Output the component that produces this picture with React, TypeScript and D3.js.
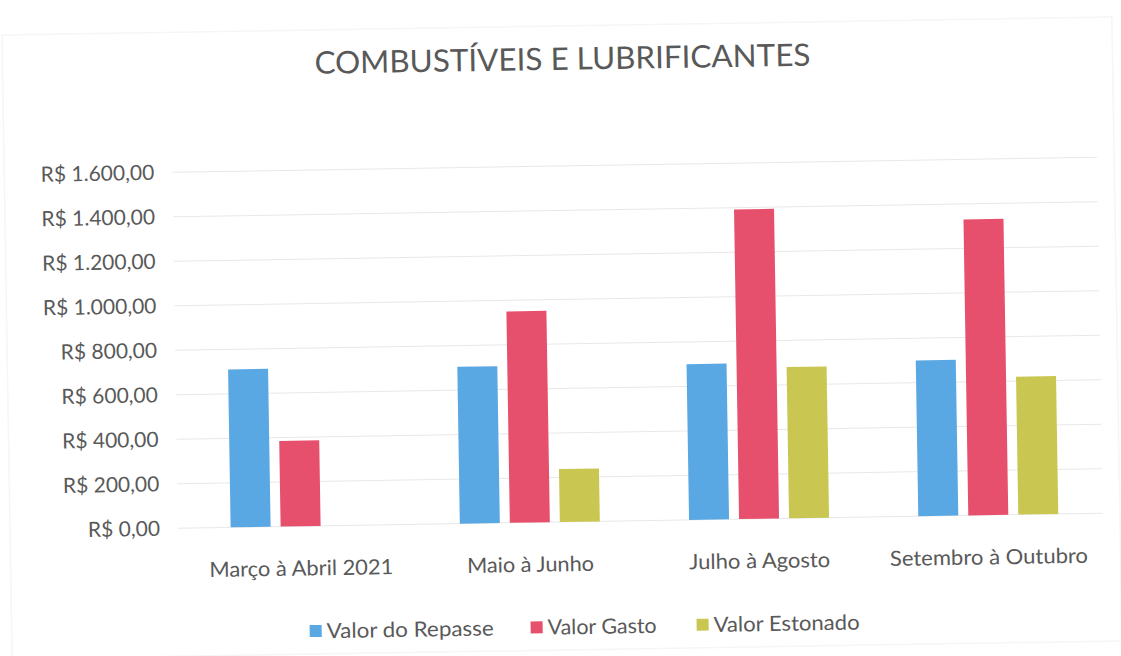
import React from "react";
import * as d3 from "d3";

const categories = ["Março à Abril 2021", "Maio à Junho", "Julho à Agosto", "Setembro à Outubro"];
const seriesNames = ["Valor do Repasse", "Valor Gasto", "Valor Estonado"];
const repasse = [710, 705, 700, 700];
const gasto = [385, 950, 1392, 1330];
const estonado = [0, 238, 680, 620];
const yTicks = [0, 200, 400, 600, 800, 1000, 1200, 1400, 1600];
const colors = ["#5aa8e3", "#e6506c", "#c9c752"];

const fmt = (v: number) =>
  "R$ " + v.toLocaleString("pt-BR", { minimumFractionDigits: 2, maximumFractionDigits: 2 });

// widths of the scanned labels, so the substitute font takes the same room
const catWidths = [184, 127, 141, 198];
const legendWidths = [167, 109, 146];
const legendX = [305, 526, 692];

export default function App() {
  const width = 1121;
  const height = 656;
  const margin = { top: 166, right: 21, bottom: 134, left: 183 };
  const w = width - margin.left - margin.right;
  const h = height - margin.top - margin.bottom;

  const values = [repasse, gasto, estonado];

  const x0 = d3.scaleBand<string>().domain(categories).range([0, w]);
  const bw = x0.bandwidth();
  const groupW = 140;
  const x1 = d3
    .scaleBand<string>()
    .domain(seriesNames)
    .range([(bw - groupW) / 2, (bw + groupW) / 2])
    .paddingInner(0.2);

  const y = d3.scaleLinear().domain([0, 1600]).range([h, 0]);

  const font = "Lato, 'Open Sans', sans-serif";
  const textColor = "#595959";

  return (
    <div style={{ position: "absolute", left: 0, top: 0 }}>
      <svg width={width} height={height} style={{ display: "block", background: "#fff" }}>
        <g transform="rotate(-0.93, 560, 340)">
          <rect x={7} y={26} width={1110} height={624} fill="none" stroke="#f6f6f6" strokeWidth={1.5} />
          <text
            x={567}
            y={62}
            textAnchor="middle"
            dominantBaseline="middle"
            fontFamily={font}
            fontSize={31}
            fill={textColor}
            textLength={496}
            lengthAdjust="spacingAndGlyphs"
          >
            COMBUSTÍVEIS E LUBRIFICANTES
          </text>

          <g transform={"translate(" + margin.left + "," + margin.top + ")"}>
            {yTicks.map((t) => (
              <g key={t}>
                <line x1={-8} x2={w} y1={y(t)} y2={y(t)} stroke="#e8e8e8" strokeWidth={1} />
                <text
                  x={-26}
                  y={y(t)}
                  dy="0.35em"
                  textAnchor="end"
                  fontFamily={font}
                  fontSize={21}
                  fill={textColor}
                >
                  {fmt(t)}
                </text>
              </g>
            ))}

            {categories.map((c, i) => (
              <g key={c} transform={"translate(" + x0(c) + ",0)"}>
                {seriesNames.map((s, j) =>
                  values[j][i] > 0 ? (
                    <rect
                      key={s}
                      x={x1(s)}
                      y={y(values[j][i])}
                      width={x1.bandwidth()}
                      height={h - y(values[j][i])}
                      fill={colors[j]}
                    />
                  ) : null
                )}
                <text
                  x={bw / 2}
                  y={h + 42}
                  dy="0.35em"
                  textAnchor="middle"
                  fontFamily={font}
                  fontSize={21}
                  fill={textColor}
                  textLength={catWidths[i]}
                  lengthAdjust="spacingAndGlyphs"
                >
                  {c}
                </text>
              </g>
            ))}
          </g>

          {seriesNames.map((name, i) => (
            <g key={name} transform={"translate(" + legendX[i] + ",627)"}>
              <rect x={0} y={-6} width={12} height={12} fill={colors[i]} />
              <text
                x={17}
                y={0}
                dy="0.35em"
                fontFamily={font}
                fontSize={21}
                fill={textColor}
                textLength={legendWidths[i]}
                lengthAdjust="spacingAndGlyphs"
              >
                {name}
              </text>
            </g>
          ))}
        </g>
      </svg>
    </div>
  );
}
